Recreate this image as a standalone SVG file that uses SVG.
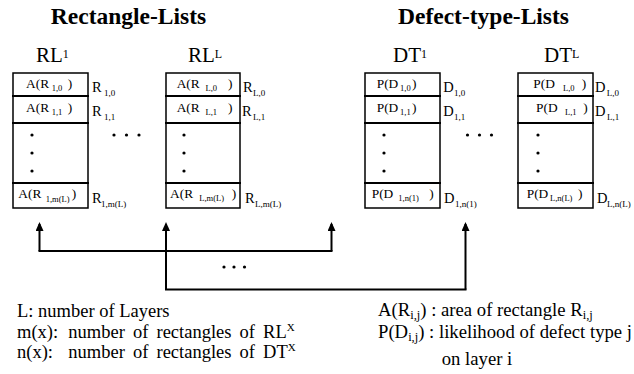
<svg xmlns="http://www.w3.org/2000/svg" width="634" height="374" viewBox="0 0 634 374" font-family="'Liberation Serif', 'Times New Roman', serif">
  <defs>
    <style>
      text { font-family: "Liberation Serif", "Times New Roman", serif; fill: #000; }
      .title { font-size: 23.5px; font-weight: bold; text-anchor: middle; }
      .head { font-size: 21px; }
      .hsup { font-size: 12px; }
      .cell { font-size: 13.4px; }
      .csub { font-size: 8.5px; }
      .lab { font-size: 14.5px; }
      .lsub { font-size: 9px; }
      .note { font-size: 18.5px; }
      .wide { word-spacing: 3.5px; }
      .noteR { font-size: 18.7px; }
      .nsup { font-size: 11px; }
      .nsub { font-size: 12.5px; }
      .box { fill: #fff; stroke: #000; stroke-width: 1.5; }
      .div { stroke: #000; stroke-width: 2; }
      .dot { fill: #000; }
      .wire { fill: none; stroke: #000; stroke-width: 2; }
    </style>
    <marker id="arrow" markerWidth="9" markerHeight="8" refX="7" refY="4" orient="auto" markerUnits="userSpaceOnUse" viewBox="0 0 9 8">
      <path d="M0,0 L9,4 L0,8 Z" fill="#000"/>
    </marker>
  </defs>

  <rect width="634" height="374" fill="#fff"/>

  <!-- column titles -->
  <text class="title" x="128.5" y="24">Rectangle-Lists</text>
  <text class="title" x="483.5" y="24">Defect-type-Lists</text>

  <!-- list RL^1 -->
  <g id="rl1">
    <text class="head" x="36" y="62">RL<tspan class="hsup" dy="-4.5">1</tspan></text>
    <rect class="box" x="13" y="73" width="75" height="135"/>
    <line class="div" x1="12" y1="96" x2="89" y2="96"/>
    <line class="div" x1="12" y1="123" x2="89" y2="123"/>
    <line class="div" x1="12" y1="183" x2="89" y2="183"/>
    <text class="cell" x="26" y="88">A(R<tspan class="csub" x="51.7" dy="3">1,0</tspan><tspan x="67.7" dy="-3">)</tspan></text>
    <text class="cell" x="26" y="112">A(R<tspan class="csub" x="51.7" dy="3">1,1</tspan><tspan x="67.7" dy="-3">)</tspan></text>
    <circle class="dot" cx="32" cy="135" r="1.6"/>
    <circle class="dot" cx="32" cy="153" r="1.6"/>
    <circle class="dot" cx="32" cy="171" r="1.6"/>
    <text class="cell" x="18.3" y="198">A(R<tspan class="csub" x="45.7" dy="4">1,m(L)</tspan><tspan x="71.7" dy="-4">)</tspan></text>
    <text class="lab" x="92" y="91.5">R<tspan class="lsub" x="104" dy="4">1,0</tspan></text>
    <text class="lab" x="92" y="115.5">R<tspan class="lsub" x="104" dy="4">1,1</tspan></text>
    <text class="lab" x="92" y="203">R<tspan class="lsub" x="101" dy="4">1,m(L)</tspan></text>
  </g>

  <!-- list RL^L -->
  <g id="rlL">
    <text class="head" x="188" y="62">RL<tspan class="hsup" dy="-4.5">L</tspan></text>
    <rect class="box" x="166" y="73" width="74" height="135"/>
    <line class="div" x1="165" y1="96" x2="241" y2="96"/>
    <line class="div" x1="165" y1="123" x2="241" y2="123"/>
    <line class="div" x1="165" y1="183" x2="241" y2="183"/>
    <text class="cell" x="176.7" y="88">A(R<tspan class="csub" x="205.5" dy="3">L,0</tspan><tspan x="228" dy="-3">)</tspan></text>
    <text class="cell" x="176.7" y="112">A(R<tspan class="csub" x="205.5" dy="3">L,1</tspan><tspan x="228" dy="-3">)</tspan></text>
    <circle class="dot" cx="184" cy="135" r="1.6"/>
    <circle class="dot" cx="184" cy="153" r="1.6"/>
    <circle class="dot" cx="184" cy="171" r="1.6"/>
    <text class="cell" x="170" y="198">A(R<tspan class="csub" x="199.3" dy="3">L,m(L)</tspan><tspan x="231.7" dy="-3">)</tspan></text>
    <text class="lab" x="243" y="91.5">R<tspan class="lsub" x="253" dy="4">L,0</tspan></text>
    <text class="lab" x="242" y="115.5">R<tspan class="lsub" x="253" dy="4">L,1</tspan></text>
    <text class="lab" x="245" y="203">R<tspan class="lsub" x="255" dy="4">L,m(L)</tspan></text>
  </g>

  <!-- list DT^1 -->
  <g id="dt1">
    <text class="head" x="393" y="62">DT<tspan class="hsup" dy="-4.5">1</tspan></text>
    <rect class="box" x="365" y="73" width="75" height="135"/>
    <line class="div" x1="364" y1="96" x2="441" y2="96"/>
    <line class="div" x1="364" y1="123" x2="441" y2="123"/>
    <line class="div" x1="364" y1="183" x2="441" y2="183"/>
    <text class="cell" x="376.7" y="88">P(D<tspan class="csub" x="400" dy="3">1,0</tspan><tspan x="412" dy="-3">)</tspan></text>
    <text class="cell" x="376.7" y="112">P(D<tspan class="csub" x="400" dy="3">1,1</tspan><tspan x="412" dy="-3">)</tspan></text>
    <circle class="dot" cx="384" cy="135" r="1.6"/>
    <circle class="dot" cx="384" cy="153" r="1.6"/>
    <circle class="dot" cx="384" cy="171" r="1.6"/>
    <text class="cell" x="371.7" y="198">P(D<tspan class="csub" x="398.3" dy="3">1,n(1)</tspan><tspan x="429.3" dy="-3">)</tspan></text>
    <text class="lab" x="443.3" y="91.5">D<tspan class="lsub" x="454" dy="4">1,0</tspan></text>
    <text class="lab" x="443.3" y="115.5">D<tspan class="lsub" x="454" dy="4">1,1</tspan></text>
    <text class="lab" x="444" y="203">D<tspan class="lsub" x="455" dy="4">1,n(1)</tspan></text>
  </g>

  <!-- list DT^L -->
  <g id="dtL">
    <text class="head" x="544" y="62">DT<tspan class="hsup" dy="-4.5">L</tspan></text>
    <rect class="box" x="518" y="73" width="75" height="135"/>
    <line class="div" x1="517" y1="96" x2="594" y2="96"/>
    <line class="div" x1="517" y1="123" x2="594" y2="123"/>
    <line class="div" x1="517" y1="183" x2="594" y2="183"/>
    <text class="cell" x="533.3" y="88">P(D<tspan class="csub" x="563" dy="3">L,0</tspan><tspan x="581.7" dy="-3">)</tspan></text>
    <text class="cell" x="536" y="112">P(D<tspan class="csub" x="565" dy="3">L,1</tspan><tspan x="583.3" dy="-3">)</tspan></text>
    <circle class="dot" cx="538" cy="135" r="1.6"/>
    <circle class="dot" cx="538" cy="153" r="1.6"/>
    <circle class="dot" cx="538" cy="171" r="1.6"/>
    <text class="cell" x="526.7" y="198">P(D<tspan class="csub" x="550" dy="3">L,n(L)</tspan><tspan x="578" dy="-3">)</tspan></text>
    <text class="lab" x="595" y="91.5">D<tspan class="lsub" x="606.7" dy="4">L,0</tspan></text>
    <text class="lab" x="595" y="115.5">D<tspan class="lsub" x="607" dy="4">L,1</tspan></text>
    <text class="lab" x="597" y="203">D<tspan class="lsub" x="607" dy="4">L,n(L)</tspan></text>
  </g>

  <!-- ellipses between lists -->
  <g id="gaps">
    <circle class="dot" cx="114" cy="135" r="1.6"/>
    <circle class="dot" cx="126.5" cy="135" r="1.6"/>
    <circle class="dot" cx="139" cy="135" r="1.6"/>
    <circle class="dot" cx="467.5" cy="135" r="1.6"/>
    <circle class="dot" cx="479.5" cy="135" r="1.6"/>
    <circle class="dot" cx="491.5" cy="135" r="1.6"/>
    <circle class="dot" cx="224" cy="267" r="1.6"/>
    <circle class="dot" cx="234" cy="267" r="1.6"/>
    <circle class="dot" cx="244.5" cy="267" r="1.6"/>
  </g>

  <!-- layer links: RL^i paired with DT^i -->
  <g id="connectors">
    <path class="wire" d="M39.5,251 V224" marker-end="url(#arrow)"/>
    <path class="wire" d="M331.5,251 V224" marker-end="url(#arrow)"/>
    <path class="wire" d="M38.5,251 H332.5"/>
    <path class="wire" d="M166,289.5 V224" marker-end="url(#arrow)"/>
    <path class="wire" d="M465.5,289.5 V224" marker-end="url(#arrow)"/>
    <path class="wire" d="M165,289.5 H466.5"/>
  </g>

  <!-- legend -->
  <g id="legend-left">
    <text class="note" x="17" y="317">L: number of Layers</text>
    <text class="note" x="17" y="338">m(x):</text>
    <text class="note wide" x="68.3" y="338">number of rectangles of RL<tspan class="nsup" dy="-7">X</tspan></text>
    <text class="note" x="17" y="358">n(x):</text>
    <text class="note wide" x="68.3" y="358">number of rectangles of DT<tspan class="nsup" dy="-7">X</tspan></text>
  </g>
  <g id="legend-right">
    <text class="noteR" x="378" y="316">A(R<tspan class="nsub" dy="3">i,j</tspan><tspan dy="-3">) : area of rectangle R</tspan><tspan class="nsub" dy="3">i,j</tspan></text>
    <text class="noteR" x="378" y="338">P(D<tspan class="nsub" dy="3">i,j</tspan><tspan dy="-3">) : likelihood of defect type j</tspan></text>
    <text class="noteR" x="441.7" y="365">on layer i</text>
  </g>
</svg>
